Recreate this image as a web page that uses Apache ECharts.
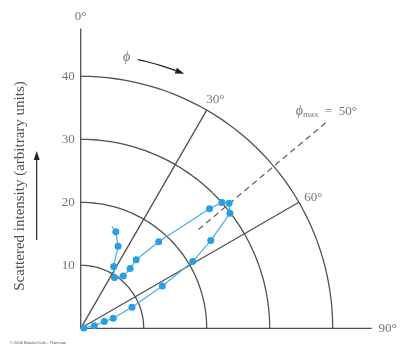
<!DOCTYPE html>
<html>
<head>
<meta charset="utf-8">
<script src="https://cdn.jsdelivr.net/npm/echarts@6/dist/echarts.min.js"></script>
<style>
html,body{margin:0;padding:0;background:#fff;}
#main{width:403px;height:347px;}
</style>
</head>
<body>
<div id="main"></div>
<script type="text/javascript">
	// 数据：[散射强度, 角度φ]
	var intensity = [0.5, 2.2, 3.9, 5.4, 8.8, 14.6, 20.7, 24.9, 29.9, 30.8, 30.0, 27.9, 18.5, 14.0, 12.3, 10.7, 9.7, 11.1, 14.3, 16.3, 16.9];
	var phi = [85, 79, 74, 73, 67.6, 62.6, 59.2, 56, 52.4, 49.9, 48.3, 47.1, 42, 39, 39.6, 39.2, 33.6, 28.1, 24.5, 20, 17];
	var ringValues = [10, 20, 30, 40];
	var spokeAngles = [30, 60];
	var tickLabels = ['10', '20', '30', '40'];
	var phiMax = 50;

	var gray = '#505050';
	var blue = '#2a9ee4';
	var serif = '"Liberation Serif","DejaVu Serif",serif';
	var pxPerUnit = 6.3;

	// 曲线数据（最后一点只画线，不画点）
	var curve = intensity.map(function(r, i){
		var item = {value:[r, phi[i]]};
		if(i === intensity.length - 1){
			item.symbol = 'none';
		}
		return item;
	});

	var series = [];
	// 同心圆弧
	ringValues.forEach(function(r){
		var pts = [];
		for(var a = 0; a <= 90; a += 2){
			pts.push([r, a]);
		}
		series.push({type:'line', coordinateSystem:'polar', data:pts, symbol:'none', silent:true,
			lineStyle:{color:gray, width:1.3}});
	});
	// 径向线
	spokeAngles.forEach(function(a){
		series.push({type:'line', coordinateSystem:'polar', data:[[0, a], [40, a]], symbol:'none', silent:true,
			lineStyle:{color:gray, width:1.3}});
	});
	// 坐标轴 0° / 90°
	series.push({type:'line', coordinateSystem:'polar', data:[[0, 0], [47.6, 0]], symbol:'none', silent:true,
		lineStyle:{color:gray, width:1.3}});
	series.push({type:'line', coordinateSystem:'polar', data:[[0, 90], [46.2, 90]], symbol:'none', silent:true,
		lineStyle:{color:gray, width:1.3}});
	// φmax 虚线
	series.push({type:'line', coordinateSystem:'polar', data:[[24.4, phiMax], [51, phiMax]], symbol:'none', silent:true,
		lineStyle:{color:'#666', width:1.3, type:[6, 4]}});
	// φ 方向箭头
	var arcPts = [];
	for(var a = 12; a <= 21; a += 1){
		arcPts.push([43.6, a]);
	}
	arcPts[arcPts.length - 1] = {value:[43.6, 21.2], symbol:'triangle', symbolSize:[6, 9], symbolRotate:-111};
	series.push({type:'line', coordinateSystem:'polar', data:arcPts, symbol:'none', silent:true,
		itemStyle:{color:'#222'}, lineStyle:{color:'#222', width:1.2}});

	// 数据曲线
	series.push({type:'line', coordinateSystem:'polar', data:curve, symbol:'circle', symbolSize:7,
		lineStyle:{color:'#45aee6', width:1.2}, itemStyle:{color:blue}, z:5});

	// 文字标注
	var labelData = tickLabels.map(function(t, i){
		return {value:[ringValues[i], 0], label:{formatter:t, position:'left', distance:5}};
	});
	labelData.push({value:[49.5, 0], label:{formatter:'0°'}});
	labelData.push({value:[48.7, 90], label:{formatter:'90°'}});
	labelData.push({value:[42.1, 30.5], label:{formatter:'30°'}});
	labelData.push({value:[42.4, 60.6], label:{formatter:'60°'}});
	labelData.push({value:[52, 48.6], label:{formatter:'{a|ϕ}{b|max}  =  50°'}});
	labelData.push({value:[43.7, 9.6], label:{formatter:'{a|ϕ}'}});
	series.push({type:'scatter', coordinateSystem:'polar', data:labelData, symbolSize:2, silent:true,
		itemStyle:{color:'rgba(0,0,0,0)'}, z:6,
		label:{show:true, position:'inside', color:gray, fontFamily:serif, fontSize:13,
			rich:{
				a:{fontFamily:serif, fontSize:14, color:gray, fontStyle:'italic'},
				b:{fontFamily:serif, fontSize:9, color:gray, padding:[6, 0, 0, 0]}
			}}});

	var myChart = echarts.init(document.getElementById('main'));
	var option = {
		animation:false,
		backgroundColor:'#fff',
		polar:{center:[80.7, 328.3], radius:54 * pxPerUnit},
		angleAxis:{type:'value', min:0, max:360, startAngle:90, clockwise:true,
			axisLine:{show:false}, axisTick:{show:false}, axisLabel:{show:false}, splitLine:{show:false}},
		radiusAxis:{type:'value', min:0, max:54,
			axisLine:{show:false}, axisTick:{show:false}, axisLabel:{show:false}, splitLine:{show:false}},
		graphic:[
			{type:'text', x:20, y:186, rotation:Math.PI / 2, originX:0, originY:0,
				style:{text:'Scattered intensity (arbitrary units)', fill:gray, font:'15px ' + serif,
					textAlign:'center', textVerticalAlign:'middle'}},
			{type:'line', shape:{x1:36.7, y1:240, x2:36.7, y2:158}, style:{stroke:'#222', lineWidth:1.2}},
			{type:'polygon', shape:{points:[[33.7, 160], [39.7, 160], [36.7, 151]]}, style:{fill:'#222'}},
			{type:'text', x:10, y:343, style:{text:'© 2006 Brooks/Cole - Thomson', fill:'#555',
				font:'4px sans-serif', textVerticalAlign:'middle'}}
		],
		series:series
	};
	myChart.setOption(option);
</script>
</body>
</html>
